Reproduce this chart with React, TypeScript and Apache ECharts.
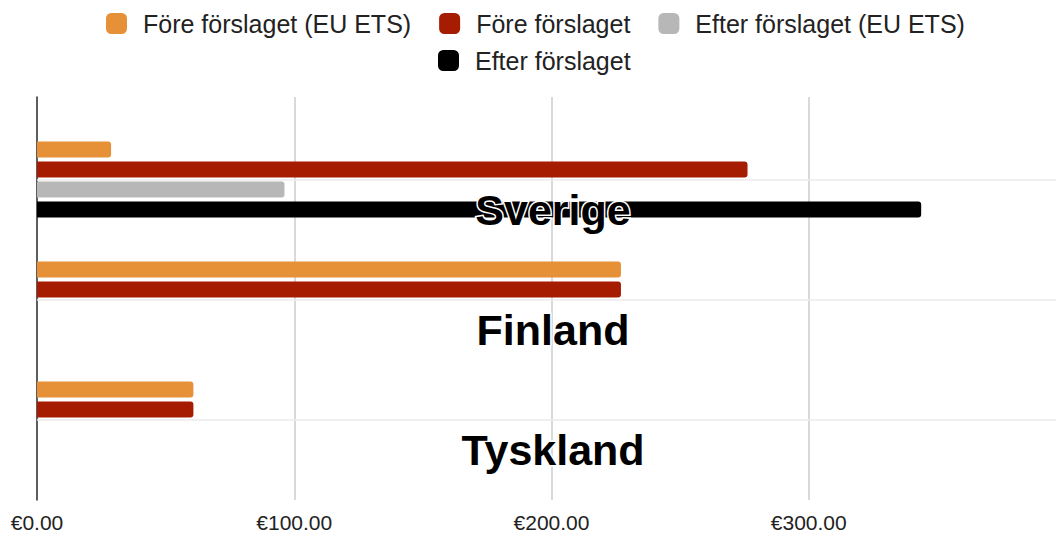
import React, { useEffect, useRef } from "react";
import * as echarts from "echarts";

const categories = ["Sverige", "Finland", "Tyskland"];
const seriesNames = [
  "Före förslaget (EU ETS)",
  "Före förslaget",
  "Efter förslaget (EU ETS)",
  "Efter förslaget",
];
const foreEts = [28.8, 227, 60.8];
const fore = [276.2, 227, 60.8];
const efterEts = [96.2, null, null];
const efter = [343.7, null, null];
const colors = ["#E69138", "#A61C00", "#B7B7B7", "#000000"];
const xTicks = { min: 0, max: 400, interval: 100 };

const FONT = "'Liberation Sans', Arial, sans-serif";

export default function App() {
  const ref = useRef<HTMLDivElement>(null);
  useEffect(() => {
    if (!ref.current) return;
    const chart = echarts.init(ref.current, null, { renderer: "svg" });
    const values = [foreEts, fore, efterEts, efter];
    const series: any[] = values.map((d, i) => ({
      name: seriesNames[i],
      type: "bar",
      xAxisIndex: 1,
      yAxisIndex: 1,
      data: d,
      barWidth: 16,
      barGap: "25%",
      z: 3,
      itemStyle: { color: colors[i], borderRadius: [0, 3, 3, 0] },
    }));
    series.push({
      name: "band-lines",
      type: "line",
      xAxisIndex: 1,
      yAxisIndex: 1,
      data: [],
      z: 1,
      markLine: {
        silent: true,
        symbol: "none",
        label: { show: false },
        lineStyle: { color: "#ebebeb", width: 1.5, type: "solid" },
        data: categories.map((c) => ({ yAxis: c })),
      },
    });
    const legendCommon = {
      icon: "roundRect",
      itemWidth: 21,
      itemHeight: 21,
      itemGap: 28,
      padding: 0,
      textStyle: {
        fontFamily: FONT,
        fontSize: 25,
        color: "#222",
        padding: [0, 0, 0, 11],
      },
    };
    chart.setOption({
      animation: false,
      textStyle: { fontFamily: FONT },
      legend: [
        { ...legendCommon, data: seriesNames.slice(0, 3), left: 106, top: 11 },
        { ...legendCommon, data: seriesNames.slice(3), left: 438, top: 48 },
      ],
      grid: [
        { left: 37, width: 1029, top: 97, height: 403, outerBoundsMode: "none", containLabel: false },
        { left: 37, width: 1029, top: 119.5, height: 360, outerBoundsMode: "none", containLabel: false },
      ],
      xAxis: [
        {
          type: "value",
          gridIndex: 0,
          ...xTicks,
          axisLine: { show: false },
          axisTick: { show: false },
          splitLine: { show: true, lineStyle: { color: "#cccccc", width: 1.5 } },
          axisLabel: {
            showMaxLabel: false,
            fontSize: 21,
            lineHeight: 18,
            color: "#222",
            margin: 13,
            fontFamily: FONT,
            formatter: (v: number) => "€" + v.toFixed(2),
          },
        },
        {
          type: "value",
          gridIndex: 1,
          ...xTicks,
          show: false,
          splitLine: { show: false },
        },
      ],
      yAxis: [
        {
          type: "value",
          gridIndex: 0,
          min: 0,
          max: 1,
          axisLine: { show: true, lineStyle: { color: "#333", width: 1.5 } },
          axisTick: { show: false },
          axisLabel: { show: false },
          splitLine: { show: false },
        },
        {
          type: "category",
          gridIndex: 1,
          inverse: true,
          data: categories,
          z: 10,
          axisLine: { show: false },
          axisTick: { show: false },
          splitLine: { show: false },
          axisLabel: {
            inside: true,
            margin: 516,
            align: "center",
            verticalAlign: "top",
            lineHeight: 60,
            fontSize: 43,
            fontWeight: "bold",
            color: "#000",
            fontFamily: FONT,
            textBorderColor: "#fff",
            textBorderWidth: 3,
          },
        },
      ],
      series,
    });
    return () => chart.dispose();
  }, []);
  return (
    <div
      ref={ref}
      style={{ position: "absolute", left: 0, top: 0, width: 1056, height: 533 }}
    />
  );
}
